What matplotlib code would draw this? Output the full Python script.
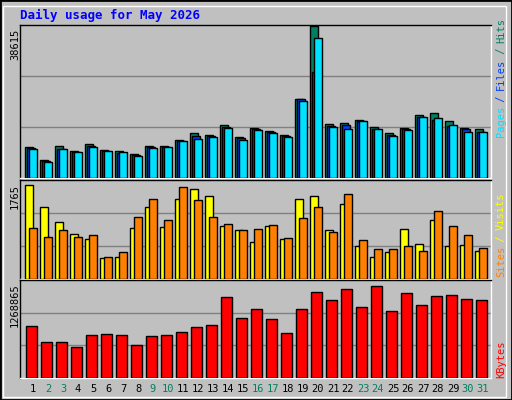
import matplotlib
matplotlib.use("Agg")
import matplotlib.pyplot as plt
from matplotlib.patches import Rectangle

days = list(range(1, 32))
weekend = [2, 3, 9, 10, 16, 17, 23, 24, 30, 31]
hits = [8000, 4540, 8180, 6870, 8700, 7130, 6870, 6090, 8180, 8180, 9750, 11330, 11060, 13420, 10370, 12750, 11880, 11060, 20060, 38615, 13680, 13940, 14820, 12880, 11330, 12750, 16060, 16420, 14500, 12750, 12400]
files = [7740, 4280, 7400, 6520, 8260, 6870, 6430, 5740, 7830, 7920, 9490, 10630, 10800, 12980, 10110, 12490, 11710, 10800, 19980, 26910, 13150, 13420, 14410, 12490, 11060, 12580, 15550, 14770, 13150, 12400, 11620]
pages = [7400, 4020, 7400, 6610, 8000, 6870, 6610, 5560, 7660, 7920, 9490, 10020, 10540, 12660, 9750, 12140, 11360, 10540, 19720, 35730, 12930, 12400, 14500, 12400, 10800, 12140, 15550, 15290, 13500, 11620, 11620]
visits = [1765, 1350, 1060, 850, 750, 390, 410, 950, 1350, 970, 1500, 1690, 1560, 1000, 910, 700, 990, 750, 1500, 1560, 910, 1410, 620, 410, 500, 930, 660, 1100, 620, 640, 520]
sites = [950, 790, 910, 790, 830, 410, 500, 1160, 1500, 1100, 1730, 1480, 1160, 1040, 910, 930, 1010, 770, 1140, 1350, 890, 1600, 740, 560, 560, 620, 520, 1270, 990, 830, 580]
kbytes = [713000, 491000, 491000, 421000, 588000, 602000, 588000, 449000, 574000, 588000, 630000, 699000, 727000, 1116000, 824000, 949000, 810000, 616000, 949000, 1185000, 1074000, 1227000, 977000, 1268865, 921000, 1171000, 1005000, 1130000, 1144000, 1088000, 1074000]

W, H = 512, 400
fig = plt.figure(figsize=(W/100, H/100), dpi=100)
fig.patch.set_facecolor("#C0C0C0")
fig.patches.append(Rectangle((0, 0), 1, 1, transform=fig.transFigure, fill=False, edgecolor="black", linewidth=2))
fig.patches.append(Rectangle((3/W, 3/H), 1-9/W, 1-9/H, transform=fig.transFigure, fill=False, edgecolor="white", linewidth=1))

def pax(x0, y0, x1, y1):
    return fig.add_axes([x0/W, 1-y1/H, (x1-x0)/W, (y1-y0)/H])

XL = (-0.353, -0.353 + 471/15)

def style(ax, vmax):
    ax.set_facecolor("#C0C0C0")
    ax.set_xlim(*XL)
    ax.set_ylim(0, vmax)
    ax.set_xticks([]); ax.set_yticks([])
    for y in (vmax/3, 2*vmax/3):
        ax.axhline(y, color="#808080", linewidth=1, zorder=0)
    for s in ax.spines.values():
        s.set_color("black"); s.set_linewidth(1)
    ax.spines["bottom"].set_color("white"); ax.spines["right"].set_color("white")

xs = [d - 1 for d in days]
ek = dict(edgecolor="black", linewidth=1, align="edge", zorder=3)

ax1 = pax(20, 25, 491, 178)
style(ax1, 38615 * 147.7/146.5)
ax1.bar(xs, hits, width=0.53, color="#008060", **ek)
ax1.bar([x + 0.13 for x in xs], files, width=0.5, color="#0040FF", **ek)
ax1.bar([x + 0.27 for x in xs], pages, width=0.49, color="#00E0FF", **ek)

ax2 = pax(20, 180, 491, 279)
style(ax2, 1765 * 96.7/92)
ax2.bar(xs, visits, width=0.53, color="#FFFF00", **ek)
ax2.bar([x + 0.27 for x in xs], sites, width=0.49, color="#FF8000", **ek)

ax3 = pax(20, 280, 491, 378)
style(ax3, 1268865 * 97/91.3)
ax3.bar([x + 0.047 for x in xs], kbytes, width=0.71, color="#FF0000", **ek)

mono = dict(family="DejaVu Sans Mono")
fig.text(20/W, 1-15/H, "Daily usage for May 2026", color="#0000FF", fontsize=9, fontweight="bold", va="center", **mono)

for y, s in ((29, "38615"), (184, "1765"), (283, "1268865")):
    fig.text(15/W, 1-y/H, s, rotation=90, ha="center", va="top", fontsize=7.5, **mono)

for d in days:
    xp = 25.3 + (d - 1) * 15 + 7.7
    fig.text(xp/W, 1-389/H, str(d), ha="center", va="center", fontsize=7.5,
             color="#008060" if d in weekend else "black", **mono)

def vlabel(y_bottom, parts):
    y = y_bottom
    for txt, col in parts:
        t = fig.text(501/W, 1-y/H, txt, rotation=90, ha="center", va="bottom", fontsize=7.5, color=col, **mono)
        y -= len(txt) * 5.9

vlabel(137, [("Pages", "#00E0FF"), (" / ", "#0040FF"), ("Files", "#0040FF"), (" / ", "#008060"), ("Hits", "#008060")])
vlabel(277, [("Sites", "#FF8000"), (" / ", "#FFFF00"), ("Visits", "#FFFF00")])
vlabel(378, [("KBytes", "#FF0000")])

fig.savefig("out.png", dpi=100, facecolor=fig.get_facecolor())
